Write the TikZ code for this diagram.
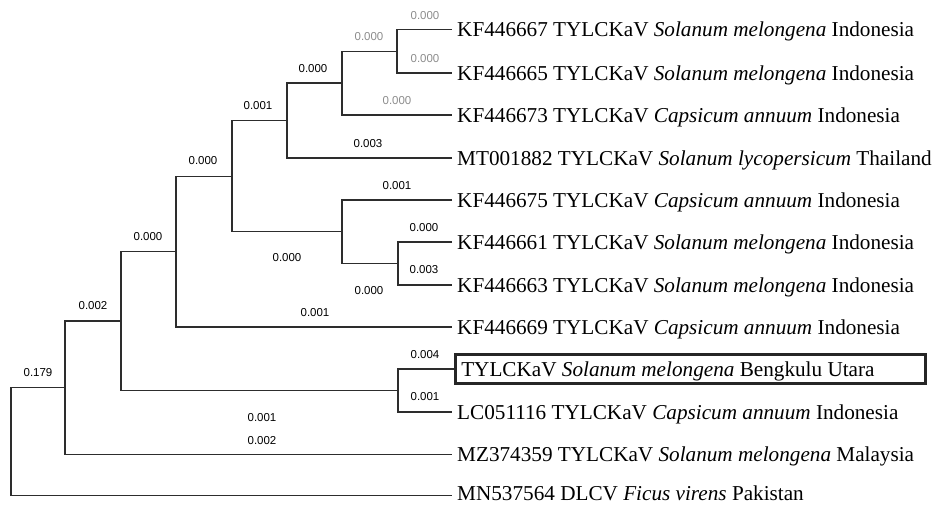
\documentclass[tikz,border=0pt]{standalone}
\usepackage{fontspec}
\setmainfont{Liberation Serif}
\newfontfamily\lblfont{Liberation Sans}
\definecolor{branchc}{RGB}{45,45,45}
\definecolor{greyl}{RGB}{140,140,140}
\begin{document}
\begin{tikzpicture}[x=1pt,y=-1pt,
  branch/.style={draw=branchc,line width=1.1pt},
  leaf/.style={anchor=west,inner xsep=5pt,inner ysep=0pt,text height=14pt,text depth=0pt,font=\fontsize{21.2}{24}\selectfont},
  hilite/.style={anchor=west,draw=black!85,line width=2.5pt,inner xsep=6pt,inner ysep=7.5pt,text height=14pt,text depth=0pt,font=\fontsize{21.2}{24}\selectfont},
  bl/.style={font=\lblfont\fontsize{11.5}{13}\selectfont,inner sep=0pt},
  gl/.style={bl,text=greyl}]
\useasboundingbox (0,0) rectangle (936,504);
% leaf tips
\coordinate (t1) at (452,29.5);
\coordinate (t2) at (452,73);
\coordinate (t3) at (452,115);
\coordinate (t4) at (452,158);
\coordinate (t5) at (452,200);
\coordinate (t6) at (452,242);
\coordinate (t7) at (452,285);
\coordinate (t8) at (452,327);
\coordinate (t9) at (454,369);
\coordinate (t10) at (452,412);
\coordinate (t11) at (452,454.5);
\coordinate (t12) at (452,495.5);
% internal nodes
\coordinate (n12) at (397,51.25);
\coordinate (n123) at (342,83);
\coordinate (n1234) at (287,120.5);
\coordinate (n67) at (398,263.5);
\coordinate (n567) at (342,231.75);
\coordinate (nA) at (232,176.1);
\coordinate (nA8) at (176,251.5);
\coordinate (n910) at (398,390.5);
\coordinate (nB) at (121,321);
\coordinate (nB11) at (65,387.75);
\coordinate (root) at (11,441.6);
% leaf labels
\node[leaf] (l1) at (t1) {KF446667 TYLCKaV \textit{Solanum melongena} Indonesia};
\node[leaf] (l2) at (t2) {KF446665 TYLCKaV \textit{Solanum melongena} Indonesia};
\node[leaf] (l3) at (t3) {KF446673 TYLCKaV \textit{Capsicum annuum} Indonesia};
\node[leaf] (l4) at (t4) {MT001882 TYLCKaV \textit{Solanum lycopersicum} Thailand};
\node[leaf] (l5) at (t5) {KF446675 TYLCKaV \textit{Capsicum annuum} Indonesia};
\node[leaf] (l6) at (t6) {KF446661 TYLCKaV \textit{Solanum melongena} Indonesia};
\node[leaf] (l7) at (t7) {KF446663 TYLCKaV \textit{Solanum melongena} Indonesia};
\node[leaf] (l8) at (t8) {KF446669 TYLCKaV \textit{Capsicum annuum} Indonesia};
\node[hilite] (l9) at (t9) {\makebox[458pt][l]{TYLCKaV \textit{Solanum melongena} Bengkulu Utara}};
\node[leaf] (l10) at (t10) {LC051116 TYLCKaV \textit{Capsicum annuum} Indonesia};
\node[leaf] (l11) at (t11) {MZ374359 TYLCKaV \textit{Solanum melongena} Malaysia};
\node[leaf,yshift=2pt] (l12) at (t12) {MN537564 DLCV \textit{Ficus virens} Pakistan};
% branches
\draw[branch] (t1) -| (n12) |- (t2);
\draw[branch] (n12) -| (n123) |- (t3);
\draw[branch] (n123) -| (n1234) |- (t4);
\draw[branch] (t6) -| (n67) |- (t7);
\draw[branch] (t5) -| (n567) |- (n67);
\draw[branch] (n1234) -| (nA) |- (n567);
\draw[branch] (nA) -| (nA8) |- (t8);
\draw[branch] (l9.west) -| (n910) |- (t10);
\draw[branch] (nA8) -| (nB) |- (n910);
\draw[branch] (nB) -| (nB11) |- (t11);
\draw[branch] (nB11) -| (root) |- (t12);
% branch length labels
\node[gl] (b1) at (425,16) {0.000};
\node[gl] (b2) at (369,37) {0.000};
\node[gl] (b3) at (425,59) {0.000};
\node[gl] (b4) at (397,101) {0.000};
\node[bl] (b5) at (313,69) {0.000};
\node[bl] (b6) at (368,144) {0.003};
\node[bl] (b7) at (258,106) {0.001};
\node[bl] (b8) at (203,161) {0.000};
\node[bl] (b9) at (397,186) {0.001};
\node[bl] (b10) at (424,228) {0.000};
\node[bl] (b11) at (424,270) {0.003};
\node[bl] (b12) at (287,258) {0.000};
\node[bl] (b13) at (369,291) {0.000};
\node[bl] (b14) at (315,313) {0.001};
\node[bl] (b15) at (148,237) {0.000};
\node[bl] (b16) at (93,306) {0.002};
\node[bl] (b17) at (38,373) {0.179};
\node[bl] (b18) at (425,355) {0.004};
\node[bl] (b19) at (425,397) {0.001};
\node[bl] (b20) at (262,418) {0.001};
\node[bl] (b21) at (262,441) {0.002};
\end{tikzpicture}
\end{document}
